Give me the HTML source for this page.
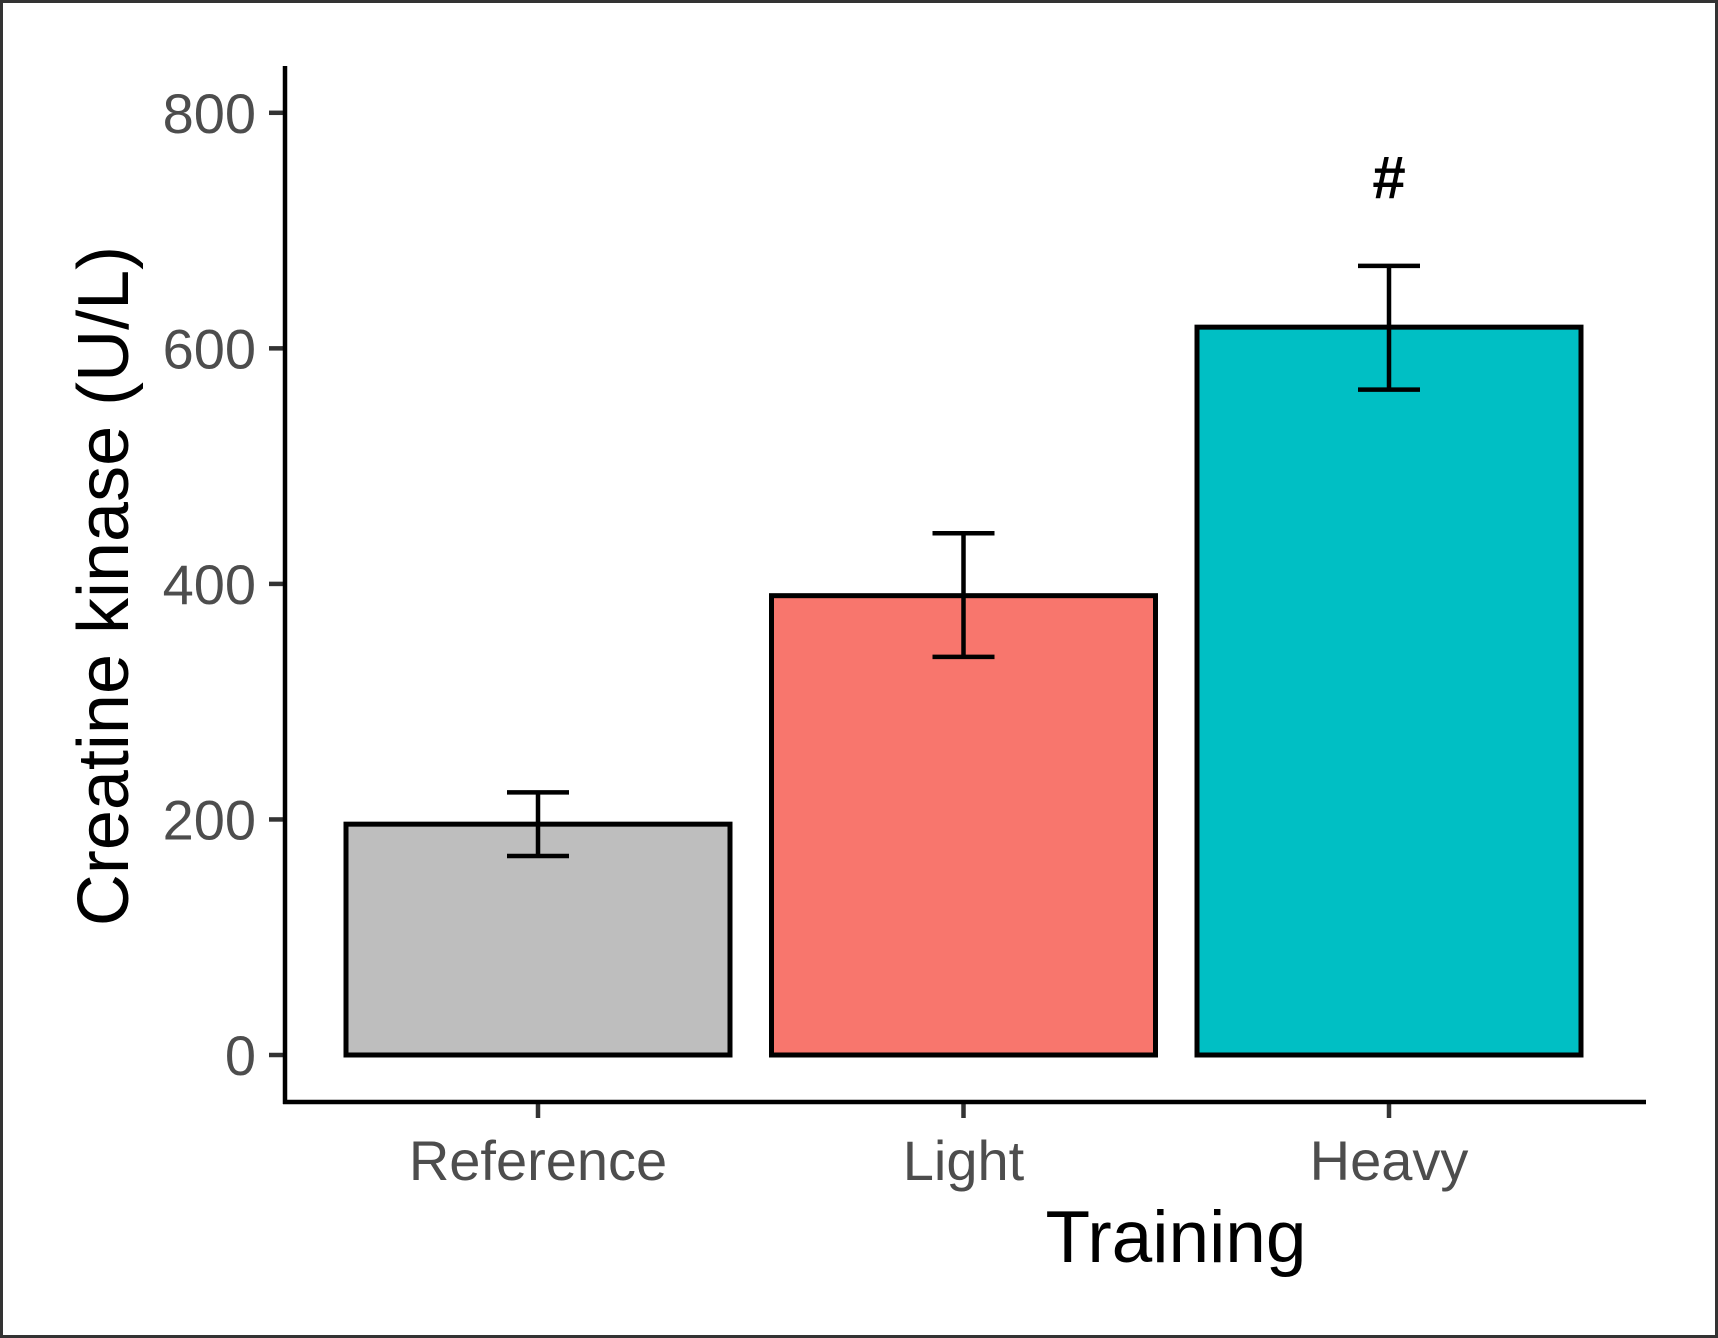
<!DOCTYPE html>
<html><head><meta charset="utf-8"><style>
html,body{margin:0;padding:0;background:#fff;}
svg{display:block;font-family:"Liberation Sans",Arial,sans-serif;}
</style></head><body>
<svg id="chart" width="1718" height="1338" viewBox="0 0 1718 1338">
<rect x="1.5" y="1.5" width="1715" height="1335" fill="#fff" stroke="#333" stroke-width="3"/>
<g id="plot"></g>
</svg>
<script>
const categories = ["Reference", "Light", "Heavy"];
const means = [196, 390, 618];
const errLow = [169, 338, 565];
const errHigh = [223, 443, 670];
const fills = ["#bebebe", "#f8766d", "#00bfc4"];
const yTicks = [0, 200, 400, 600, 800];
const annotations = ["", "", "#"];

const NS = "http://www.w3.org/2000/svg";
const g = document.getElementById("plot");
const y = v => 1055 - v * (1055 - 112.8) / 800;
const xCenter = i => 538 + i * 425.5;
const halfW = 192;

function el(tag, attrs, parent) {
  const e = document.createElementNS(NS, tag);
  for (const k in attrs) e.setAttribute(k, attrs[k]);
  (parent || g).appendChild(e);
  return e;
}

categories.forEach((c, i) => {
  const b = el("rect", {x: xCenter(i) - halfW, y: y(means[i]), width: halfW * 2, height: y(0) - y(means[i]), fill: fills[i], stroke: "#000", "stroke-width": 5});
  
  
  const eg = el("g", {stroke: "#000", "stroke-width": 4.5, fill: "none"});
  
  
  el("line", {x1: xCenter(i), x2: xCenter(i), y1: y(errLow[i]), y2: y(errHigh[i])}, eg);
  el("line", {x1: xCenter(i) - 31, x2: xCenter(i) + 31, y1: y(errLow[i]), y2: y(errLow[i])}, eg);
  el("line", {x1: xCenter(i) - 31, x2: xCenter(i) + 31, y1: y(errHigh[i]), y2: y(errHigh[i])}, eg);
  if (annotations[i]) {
    const t = el("text", {x: xCenter(i), y: 198, "text-anchor": "middle", "font-size": 60, "font-weight": "bold", fill: "#000"});
    t.textContent = annotations[i];
    
    
  }
  const tk = el("line", {x1: xCenter(i), x2: xCenter(i), y1: 1102, y2: 1118, stroke: "#333", "stroke-width": 4.5});
  
  
  const lt = el("text", {x: xCenter(i), y: 1180, "text-anchor": "middle", "font-size": 56, fill: "#4d4d4d"});
  lt.textContent = c;
  
  
});

yTicks.forEach(v => {
  const tk = el("line", {x1: 269, x2: 285, y1: y(v), y2: y(v), stroke: "#333", "stroke-width": 4.5});
  
  
  const t = el("text", {x: 256, y: y(v) + 20, "text-anchor": "end", "font-size": 56, fill: "#4d4d4d"});
  t.textContent = v;
  
  
});

const ya = el("line", {x1: 285, x2: 285, y1: 66, y2: 1104, stroke: "#000", "stroke-width": 4.5});


const xa = el("line", {x1: 283, x2: 1646, y1: 1102, y2: 1102, stroke: "#000", "stroke-width": 4.5});



const xt = el("text", {x: 1176, y: 1262, "text-anchor": "middle", "font-size": 73, fill: "#000"});
xt.textContent = "Training";


const yt = el("text", {x: 0, y: 0, "text-anchor": "middle", "font-size": 72, fill: "#000", transform: "translate(128,586) rotate(-90)"});
yt.textContent = "Creatine kinase (U/L)";


</script>
</body></html>
